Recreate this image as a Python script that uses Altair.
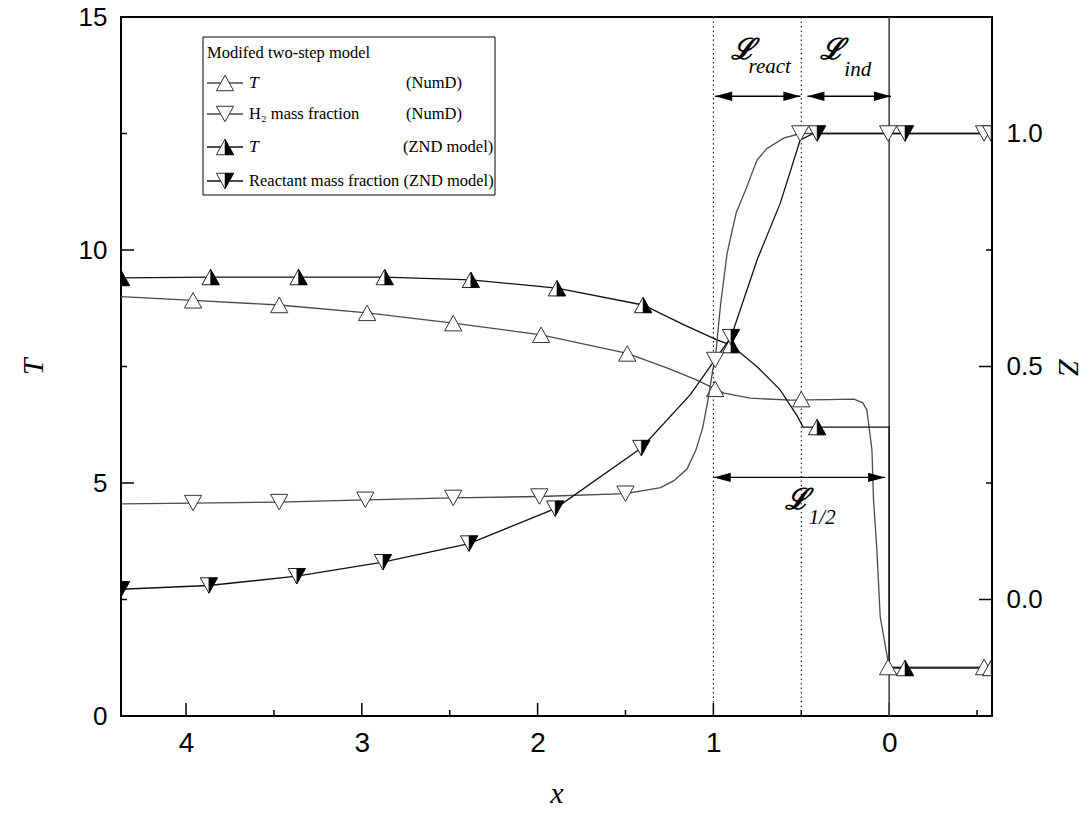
import altair as alt
import pandas as pd

# ---------------- data ----------------
# NumD temperature profile (line) and its markers
numd_T_x = [4.37, 3.96, 3.47, 2.97, 2.48, 1.98, 1.49, 1.25, 1.10, 0.99, 0.94, 0.79, 0.56, 0.35,
            0.20, 0.15, 0.127, 0.098, 0.089, 0.070, 0.051, 0.0095, 0.004, -0.585]
numd_T = [9.00, 8.92, 8.82, 8.65, 8.43, 8.18, 7.78, 7.45, 7.22, 7.02, 6.93, 6.82, 6.78, 6.79,
          6.80, 6.72, 6.57, 5.71, 4.64, 3.56, 2.13, 1.24, 1.05, 1.05]
numd_T_mx = [3.96, 3.47, 2.97, 2.48, 1.98, 1.49, 0.99, 0.50, 0.006, -0.54]
numd_T_my = [8.92, 8.82, 8.65, 8.43, 8.18, 7.78, 7.02, 6.80, 1.05, 1.05]

# NumD H2 mass fraction (Z axis)
numd_Z_x = [4.37, 3.96, 3.47, 2.98, 2.48, 1.99, 1.50, 1.30, 1.225, 1.15, 1.10, 1.06, 1.03, 1.00,
            0.99, 0.96, 0.922, 0.87, 0.809, 0.752, 0.695, 0.60, 0.506, -0.585]
numd_Z = [0.205, 0.207, 0.209, 0.214, 0.218, 0.221, 0.227, 0.240, 0.255, 0.280, 0.320, 0.370, 0.430, 0.500,
          0.514, 0.630, 0.743, 0.830, 0.886, 0.943, 0.968, 0.990, 1.000, 1.000]
numd_Z_mx = [3.96, 3.47, 2.98, 2.48, 1.99, 1.50, 0.99, 0.506, 0.006, -0.54]
numd_Z_my = [0.207, 0.209, 0.214, 0.218, 0.221, 0.227, 0.514, 1.0, 1.0, 1.0]

# ZND temperature
znd_T_x = [4.37, 3.86, 3.36, 2.87, 2.38, 1.89, 1.40, 1.17, 0.98, 0.90, 0.75, 0.62, 0.52, 0.49,
           0.0, 0.0, -0.585]
znd_T = [9.40, 9.42, 9.42, 9.42, 9.36, 9.18, 8.82, 8.40, 8.07, 7.96, 7.49, 7.00, 6.42, 6.20,
         6.20, 1.03, 1.03]
znd_T_mx = [4.37, 3.86, 3.36, 2.87, 2.38, 1.89, 1.40, 0.90, 0.41, -0.09, -0.58]
znd_T_my = [9.40, 9.42, 9.42, 9.42, 9.36, 9.18, 8.82, 7.96, 6.20, 1.03, 1.03]

# ZND reactant mass fraction (Z axis)
znd_Z_x = [4.37, 3.87, 3.37, 2.88, 2.39, 1.90, 1.41, 1.13, 0.90, 0.75, 0.62, 0.506, 0.43, -0.585]
znd_Z = [0.022, 0.030, 0.050, 0.080, 0.120, 0.195, 0.325, 0.440, 0.563, 0.730, 0.850, 0.986, 1.000, 1.000]
znd_Z_mx = [4.37, 3.87, 3.37, 2.88, 2.39, 1.90, 1.41, 0.90, 0.41, -0.09, -0.58]
znd_Z_my = [0.022, 0.030, 0.050, 0.080, 0.120, 0.195, 0.325, 0.563, 1.0, 1.0, 1.0]

# reference lines and length-scale arrows
dotted_x = [1.0, 0.5]
shock_x = [0.0]
arrow_x1 = [0.99, 0.465, 0.998]
arrow_x2 = [0.505, -0.01, 0.023]
arrow_T = [13.3, 13.3, 5.12]

# axis ranges, labels and ticks
X_MIN, X_MAX = -0.585, 4.37
T_MIN, T_MAX = 0, 15
Z_MIN, Z_MAX = -0.25, 1.25
x_labels = [0, 1, 2, 3, 4]
x_major = [0, 1, 2, 3, 4]
x_minor = [-0.5, 0.5, 1.5, 2.5, 3.5]
T_labels = [0, 5, 10, 15]
T_major = [5, 10]
T_minor = [2.5, 7.5, 12.5]
Z_labels = [0.0, 0.5, 1.0]
Z_major = [0.0, 0.5, 1.0]
Z_minor = [0.25, 0.75]

# legend texts
leg_title = "Modifed two-step model"
leg_labels = ["T", "H₂ mass fraction", "T", "Reactant mass fraction (ZND model)"]
leg_notes = ["(NumD)", "(NumD)", "(ZND model)", ""]
leg_italic = ["italic", "normal", "italic", "normal"]

# ---------------- layout / style ----------------
W, H = 871, 699
SERIF = "Liberation Serif"
SANS = "Liberation Sans"
NARROW = "Liberation Sans Narrow, Liberation Sans"
GRAY = "#4a4a4a"
BLACK = "#111111"
MS = 330
UP = "M0,-0.85L0.95,0.85L-0.95,0.85Z"
UP_HALF = "M0,-0.85L0.95,0.85L0,0.85Z"
DN = "M0,0.85L0.95,-0.85L-0.95,-0.85Z"
DN_HALF = "M0,0.85L0.95,-0.85L0,-0.85Z"
HEAD_L = "M0,0L2,-0.55L2,0.55Z"
HEAD_R = "M0,0L-2,-0.55L-2,0.55Z"
TICK_UP = "M0,0L0,-2"
TICK_RIGHT = "M0,0L2,0"
TICK_LEFT = "M0,0L-2,0"
MAJ_SIZE, MIN_SIZE = 13 ** 2, 6 ** 2

xs = alt.Scale(domain=[X_MIN, X_MAX], reverse=True, nice=False, zero=False)
ts = alt.Scale(domain=[T_MIN, T_MAX], nice=False, zero=False)
zs = alt.Scale(domain=[Z_MIN, Z_MAX], nice=False, zero=False)


def df_xy(xv, yv):
    return pd.DataFrame({"x": xv, "y": yv, "i": list(range(len(xv)))})


def line(xv, yv, yscale, color):
    return alt.Chart(df_xy(xv, yv)).mark_line(color=color, strokeWidth=1.3, clip=True).encode(
        x=alt.X("x:Q", scale=xs, axis=None),
        y=alt.Y("y:Q", scale=yscale, axis=None),
        order="i:Q",
    )


def pts(xv, yv, yscale, shape, fill, stroke, sw=1.0):
    return alt.Chart(df_xy(xv, yv)).mark_point(
        shape=shape, filled=True, fill=fill, stroke=stroke, strokeWidth=sw,
        size=MS, opacity=1, clip=True
    ).encode(
        x=alt.X("x:Q", scale=xs, axis=None),
        y=alt.Y("y:Q", scale=yscale, axis=None),
    )


def ticks(xv, yv, yscale, shape, size):
    return alt.Chart(df_xy(xv, yv)).mark_point(
        shape=shape, filled=False, stroke="black", strokeWidth=1.5, size=size, opacity=1
    ).encode(
        x=alt.X("x:Q", scale=xs, axis=None),
        y=alt.Y("y:Q", scale=yscale, axis=None),
    )


# ---------------- axes carriers ----------------
axis_main = alt.Chart(df_xy(numd_T_x, numd_T)).mark_point(opacity=0).encode(
    x=alt.X("x:Q", scale=xs, axis=alt.Axis(
        orient="bottom", values=x_labels, format="d", title="x", grid=False,
        domain=False, ticks=False, tickSize=0, labelPadding=13,
        labelFont=NARROW, labelFontSize=28, labelColor="black",
        titleFont=SERIF, titleFontStyle="italic", titleFontWeight="normal",
        titleFontSize=30, titlePadding=21, titleColor="black")),
    y=alt.Y("y:Q", scale=ts, axis=alt.Axis(
        orient="left", values=T_labels, format="d", title="T", grid=False,
        domain=False, ticks=False, tickSize=0, labelPadding=14,
        labelFont=SANS, labelFontSize=26, labelColor="black",
        titleFont=SERIF, titleFontStyle="italic", titleFontWeight="normal",
        titleFontSize=30, titlePadding=30, titleColor="black")),
)
axis_z = alt.Chart(df_xy(numd_Z_x, numd_Z)).mark_point(opacity=0).encode(
    x=alt.X("x:Q", scale=xs, axis=None),
    y=alt.Y("y:Q", scale=zs, axis=alt.Axis(
        orient="right", values=Z_labels, format=".1f", title="Z", grid=False,
        domain=False, ticks=False, tickSize=0, labelPadding=14,
        labelFont=SANS, labelFontSize=26, labelColor="black",
        titleFont=SERIF, titleFontStyle="italic", titleFontWeight="normal",
        titleFontSize=30, titlePadding=10, titleColor="black")),
)

# inward tick marks, placed on the frame edges
tick_layers_T = [
    ticks(x_major, [T_MIN] * len(x_major), ts, TICK_UP, MAJ_SIZE),
    ticks(x_minor, [T_MIN] * len(x_minor), ts, TICK_UP, MIN_SIZE),
    ticks([X_MAX] * len(T_major), T_major, ts, TICK_RIGHT, MAJ_SIZE),
    ticks([X_MAX] * len(T_minor), T_minor, ts, TICK_RIGHT, MIN_SIZE),
]
tick_layers_Z = [
    ticks([X_MIN] * len(Z_major), Z_major, zs, TICK_LEFT, MAJ_SIZE),
    ticks([X_MIN] * len(Z_minor), Z_minor, zs, TICK_LEFT, MIN_SIZE),
]

# ---------------- reference lines & arrows ----------------
dotted = alt.Chart(pd.DataFrame({"x": dotted_x})).mark_rule(
    color="black", strokeWidth=1, strokeDash=[1.5, 3]).encode(x=alt.X("x:Q", scale=xs, axis=None))
shock = alt.Chart(pd.DataFrame({"x": shock_x})).mark_rule(
    color="#444444", strokeWidth=1.6).encode(x=alt.X("x:Q", scale=xs, axis=None))

arr_df = pd.DataFrame({"x1": arrow_x1, "x2": arrow_x2, "y": arrow_T})
arrow_shaft = alt.Chart(arr_df).mark_rule(color="black", strokeWidth=1.4).encode(
    x=alt.X("x1:Q", scale=xs, axis=None), x2="x2:Q", y=alt.Y("y:Q", scale=ts, axis=None))
arrow_l = alt.Chart(arr_df).mark_point(shape=HEAD_L, filled=True, fill="black", strokeWidth=0,
                                       size=290, opacity=1).encode(
    x=alt.X("x1:Q", scale=xs, axis=None), y=alt.Y("y:Q", scale=ts, axis=None))
arrow_r = alt.Chart(arr_df).mark_point(shape=HEAD_R, filled=True, fill="black", strokeWidth=0,
                                       size=290, opacity=1).encode(
    x=alt.X("x2:Q", scale=xs, axis=None), y=alt.Y("y:Q", scale=ts, axis=None))

# length-scale labels (script L with italic subscripts)
lab_df = pd.DataFrame({"x": [0.83, 0.324, 0.523], "y": [14.29, 14.29, 4.64], "t": ["ℒ", "ℒ", "ℒ"]})
sub_df = pd.DataFrame({"x": [0.80, 0.255, 0.457], "y": [13.80, 13.74, 4.12],
                       "t": ["react", "ind", "1/2"]})
big_L = alt.Chart(lab_df).mark_text(font="DejaVu Serif", fontSize=29, fontStyle="italic",
                                    fontWeight="bold", color="black", align="center",
                                    baseline="middle").encode(
    x=alt.X("x:Q", scale=xs, axis=None), y=alt.Y("y:Q", scale=ts, axis=None), text="t:N")
subs = alt.Chart(sub_df).mark_text(font=SERIF, fontSize=21, fontStyle="italic",
                                   color="black", align="left", baseline="alphabetic").encode(
    x=alt.X("x:Q", scale=xs, axis=None), y=alt.Y("y:Q", scale=ts, axis=None), text="t:N")

# ---------------- legend (pixel positions inside the plot) ----------------
LEG_X0, LEG_X1, LEG_Y0, LEG_Y1 = 82, 374, 20, 178
ROW_Y = [66, 97, 130, 164]
TITLE_Y = 36
SAMPLE_X0, SAMPLE_X1, SAMPLE_XM = 86, 122, 104
TEXT_X = 128
NOTE_X = [285, 285, 282, 282]
LEG_FS = 16.5

box = alt.Chart(pd.DataFrame({"a": [LEG_X0], "b": [LEG_X1], "c": [LEG_Y0], "d": [LEG_Y1]})).mark_rect(
    fill="white", stroke="black", strokeWidth=1).encode(
    x=alt.X("a:Q", scale=None, axis=None), x2="b:Q",
    y=alt.Y("c:Q", scale=None, axis=None), y2="d:Q")

leg_df = pd.DataFrame({
    "label": leg_labels, "note": leg_notes, "style": leg_italic,
    "py": ROW_Y, "nx": NOTE_X,
    "col": [GRAY, GRAY, BLACK, BLACK],
    "x0": [SAMPLE_X0] * 4, "x1": [SAMPLE_X1] * 4, "xm": [SAMPLE_XM] * 4, "tx": [TEXT_X] * 4,
})
leg_lines = alt.Chart(leg_df).mark_rule(strokeWidth=1.3).encode(
    x=alt.X("x0:Q", scale=None, axis=None), x2="x1:Q",
    y=alt.Y("py:Q", scale=None, axis=None),
    color=alt.Color("col:N", scale=None, legend=None))


def leg_marker(rows, shape, fill, stroke, sw=1.0):
    d = leg_df.iloc[rows]
    return alt.Chart(d).mark_point(shape=shape, filled=True, fill=fill, stroke=stroke,
                                   strokeWidth=sw, size=MS, opacity=1).encode(
        x=alt.X("xm:Q", scale=None, axis=None), y=alt.Y("py:Q", scale=None, axis=None))


leg_m = [
    leg_marker([0, 2], UP, "white", "#333333"),
    leg_marker([1, 3], DN, "white", "#333333"),
    leg_marker([2], UP_HALF, "black", "black", 0.5),
    leg_marker([3], DN_HALF, "black", "black", 0.5),
]
leg_text_it = alt.Chart(leg_df[leg_df["style"] == "italic"]).mark_text(
    font=SERIF, fontSize=LEG_FS + 1, fontStyle="italic", align="left", baseline="middle",
    color="black").encode(x=alt.X("tx:Q", scale=None, axis=None),
                          y=alt.Y("py:Q", scale=None, axis=None), text="label:N")
leg_text_n = alt.Chart(leg_df[leg_df["style"] == "normal"]).mark_text(
    font=SERIF, fontSize=LEG_FS, align="left", baseline="middle", color="black").encode(
    x=alt.X("tx:Q", scale=None, axis=None), y=alt.Y("py:Q", scale=None, axis=None), text="label:N")
leg_notes_t = alt.Chart(leg_df[leg_df["note"] != ""]).mark_text(
    font=SERIF, fontSize=LEG_FS, align="left", baseline="middle", color="black").encode(
    x=alt.X("nx:Q", scale=None, axis=None), y=alt.Y("py:Q", scale=None, axis=None), text="note:N")
leg_title_t = alt.Chart(pd.DataFrame({"px": [SAMPLE_X0], "py": [TITLE_Y], "t": [leg_title]})).mark_text(
    font=SERIF, fontSize=LEG_FS, align="left", baseline="middle", color="black").encode(
    x=alt.X("px:Q", scale=None, axis=None), y=alt.Y("py:Q", scale=None, axis=None), text="t:N")

# ---------------- assemble ----------------
T_group = alt.layer(
    axis_main,
    *tick_layers_T,
    dotted, shock,
    line(numd_T_x, numd_T, ts, GRAY),
    line(znd_T_x, znd_T, ts, BLACK),
    pts(numd_T_mx, numd_T_my, ts, UP, "white", "#333333"),
    pts(znd_T_mx, znd_T_my, ts, UP, "white", "#222222"),
    pts(znd_T_mx, znd_T_my, ts, UP_HALF, "black", "black", 0.5),
    arrow_shaft, arrow_l, arrow_r, big_L, subs,
    box, leg_lines, *leg_m, leg_text_it, leg_text_n, leg_notes_t, leg_title_t,
).resolve_axis(x="independent", y="independent")

Z_group = alt.layer(
    axis_z,
    *tick_layers_Z,
    line(numd_Z_x, numd_Z, zs, GRAY),
    line(znd_Z_x, znd_Z, zs, BLACK),
    pts(numd_Z_mx, numd_Z_my, zs, DN, "white", "#333333"),
    pts(znd_Z_mx, znd_Z_my, zs, DN, "white", "#222222"),
    pts(znd_Z_mx, znd_Z_my, zs, DN_HALF, "black", "black", 0.5),
).resolve_axis(x="independent", y="independent")

chart = alt.layer(T_group, Z_group).resolve_scale(y="independent").resolve_axis(
    x="independent", y="independent").properties(
    width=W, height=H,
    padding={"left": 121, "top": 17, "right": 100, "bottom": 98},
    autosize=alt.AutoSizeParams(type="none"),
    background="white",
).configure_view(stroke="black", strokeWidth=2)

chart.save("out.html", embed_options={"renderer": "svg", "actions": False})
